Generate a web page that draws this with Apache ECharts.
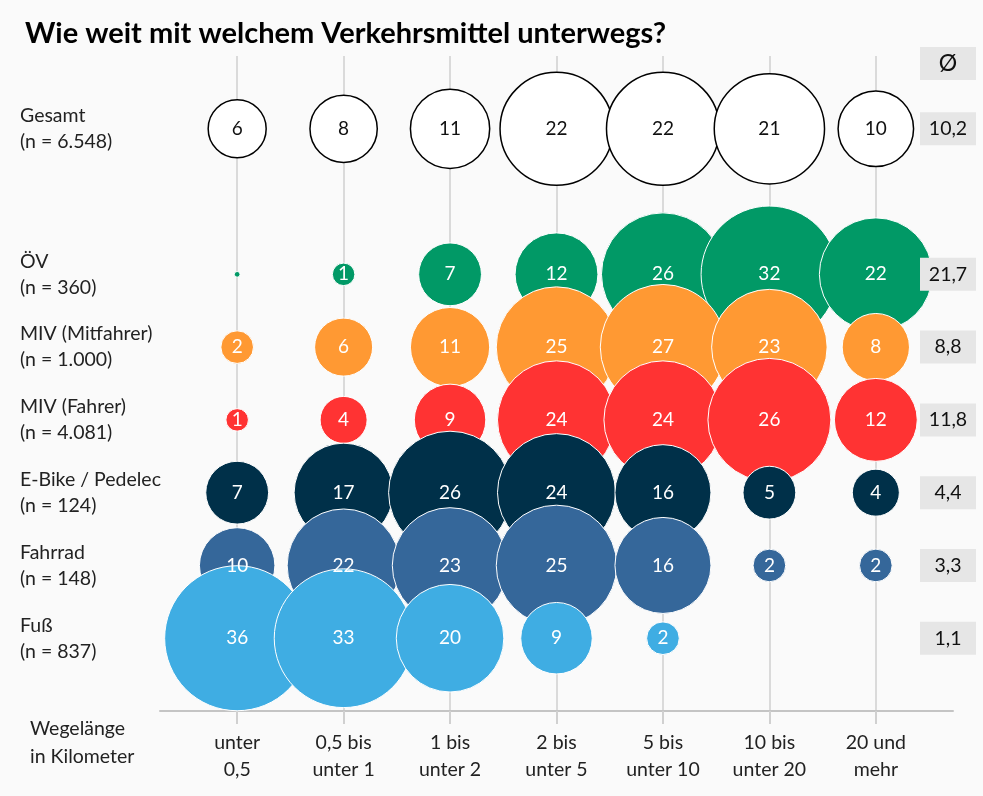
<!DOCTYPE html>
<html>
<head>
<meta charset="utf-8">
<script src="https://cdn.jsdelivr.net/npm/echarts@6/dist/echarts.min.js"></script>
<style>
  html, body { margin: 0; padding: 0; background: #fafafa; }
  #chart { width: 983px; height: 796px; }
</style>
</head>
<body>
<div id="chart"></div>
<script>
// Wegelängen-Kategorien
var xLabels = ['unter\n0,5', '0,5 bis\nunter 1', '1 bis\nunter 2', '2 bis\nunter 5', '5 bis\nunter 10', '10 bis\nunter 20', '20 und\nmehr'];
// Zeilen (Verkehrsmittel), y-Position und Beschriftung
var rowNames = ['Gesamt', 'ÖV', 'MIV (Mitfahrer)', 'MIV (Fahrer)', 'E-Bike / Pedelec', 'Fahrrad', 'Fuß'];
var rowN = ['6.548', '360', '1.000', '4.081', '124', '148', '837'];
var rowY = [8, 6, 5, 4, 3, 2, 1];
var rowColors = ['#ffffff', '#019966', '#ff9933', '#ff3333', '#003049', '#35679a', '#3fade3'];

// Anteile in %
var gesamtVals = [6, 8, 11, 22, 22, 21, 10];
var oevVals = [0.1, 1, 7, 12, 26, 32, 22];
var mitfahrerVals = [2, 6, 11, 25, 27, 23, 8];
var fahrerVals = [1, 4, 9, 24, 24, 26, 12];
var ebikeVals = [7, 17, 26, 24, 16, 5, 4];
var fahrradVals = [10, 22, 23, 25, 16, 2, 2];
var fussVals = [36, 33, 20, 9, 2, null, null];
// Durchschnittliche Wegelänge (km)
var avgVals = ['10,2', '21,7', '8,8', '11,8', '4,4', '3,3', '1,1'];

var allVals = [gesamtVals, oevVals, mitfahrerVals, fahrerVals, ebikeVals, fahrradVals, fussVals];

function bubbleSize(v) {
    return Math.max(5, 24.5 * Math.sqrt(v) - 2);
}

var FONT = 'Lato, "Noto Sans", sans-serif';

var series = [];
allVals.forEach(function (vals, r) {
    var data = [];
    vals.forEach(function (v, i) {
        if (v !== null) data.push([i + 1, rowY[r], v]);
    });
    var isTotal = r === 0;
    series.push({
        name: rowNames[r],
        type: 'scatter',
        xAxisIndex: 0,
        yAxisIndex: 0,
        data: data,
        symbolSize: function (val) { return bubbleSize(val[2]); },
        itemStyle: {
            color: rowColors[r],
            opacity: 1,
            borderColor: isTotal ? '#000' : '#ffffff',
            borderWidth: isTotal ? 1.5 : 1
        },
        label: {
            show: true,
            position: 'inside',
            formatter: function (p) { return p.value[2] >= 0.5 ? String(p.value[2]) : ''; },
            color: isTotal ? '#111' : '#ffffff',
            fontSize: 19,
            fontFamily: FONT
        },
        emphasis: { disabled: true },
        silent: true
    });
});

// Ø-Spalte
series.push({
    type: 'scatter',
    xAxisIndex: 1,
    yAxisIndex: 1,
    data: avgVals.map(function (a, r) { return [0.5, rowY[r], a]; }),
    symbol: 'rect',
    symbolSize: [56, 33],
    itemStyle: { color: '#e6e6e6', opacity: 1 },
    label: {
        show: true,
        position: 'inside',
        formatter: function (p) { return p.value[2]; },
        color: '#111',
        fontSize: 19.5,
        fontFamily: FONT
    },
    silent: true
});

var chart = echarts.init(document.getElementById('chart'));
chart.setOption({
    backgroundColor: '#fafafa',
    animation: false,
    title: {
        text: 'Wie weit mit welchem Verkehrsmittel unterwegs?',
        left: 20,
        top: 14,
        textStyle: { fontFamily: FONT, fontWeight: 'bold', fontSize: 29, color: '#000' }
    },
    grid: [
        { left: 160, right: 30, top: 56, bottom: 85 },
        { left: 920, width: 56, top: 56, bottom: 85 }
    ],
    xAxis: [{
        type: 'value',
        min: 0.275,
        max: 7.725,
        axisLine: { show: true, lineStyle: { color: '#c4c4c4', width: 2 } },
        axisTick: { show: true, length: 13, customValues: [1, 2, 3, 4, 5, 6, 7], lineStyle: { color: '#d0d0d0', width: 2 } },
        axisLabel: {
            customValues: [1, 2, 3, 4, 5, 6, 7],
            formatter: function (v) { return xLabels[Math.round(v) - 1] || ''; },
            margin: 18,
            fontSize: 19.5,
            lineHeight: 27,
            color: '#222',
            fontFamily: FONT
        },
        splitLine: { show: true, lineStyle: { color: '#dadada', width: 2 } }
    }, {
        gridIndex: 1,
        type: 'value',
        min: 0,
        max: 1,
        show: false
    }],
    yAxis: [{
        type: 'value',
        min: 0,
        max: 9,
        axisLine: { show: false },
        axisTick: { show: false },
        splitLine: { show: false },
        axisLabel: {
            customValues: rowY,
            formatter: function (v) {
                var r = rowY.indexOf(Math.round(v));
                return r < 0 ? '' : rowNames[r] + '\n(n = ' + rowN[r] + ')';
            },
            align: 'left',
            margin: 140,
            fontSize: 19.5,
            lineHeight: 26,
            color: '#222',
            fontFamily: FONT
        }
    }, {
        gridIndex: 1,
        type: 'value',
        min: 0,
        max: 9,
        show: false
    }],
    graphic: [
        {
            type: 'rect',
            shape: { x: 920, y: 47, width: 56, height: 33 },
            style: { fill: '#e6e6e6' }
        },
        {
            type: 'text',
            x: 948,
            y: 64,
            style: { text: 'Ø', fill: '#111', fontSize: 23, fontFamily: FONT, align: 'center', verticalAlign: 'middle' }
        },
        {
            type: 'text',
            x: 30,
            y: 715,
            style: { text: 'Wegelänge\nin Kilometer', fill: '#222', fontSize: 19.5, lineHeight: 28, fontFamily: FONT, align: 'left' }
        }
    ],
    series: series
});
</script>
</body>
</html>
